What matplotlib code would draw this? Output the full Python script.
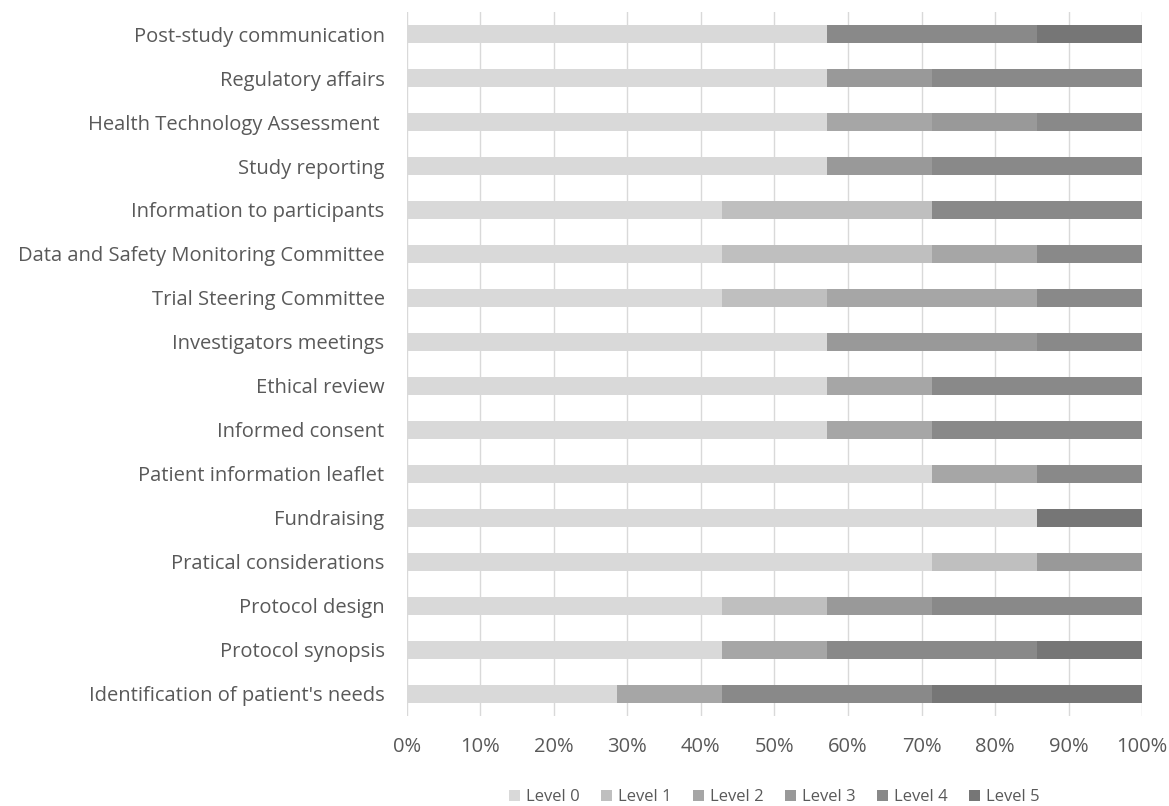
import numpy as np
import matplotlib
matplotlib.use('Agg')
import matplotlib.pyplot as plt
from matplotlib.ticker import PercentFormatter

plt.rcParams['font.family'] = ['Open Sans', 'DejaVu Sans']

# categories, bottom to top
categories = ["Identification of patient's needs", "Protocol synopsis", "Protocol design",
              "Pratical considerations", "Fundraising", "Patient information leaflet",
              "Informed consent", "Ethical review", "Investigators meetings",
              "Trial Steering Committee", "Data and Safety Monitoring Committee",
              "Information to participants", "Study reporting",
              "Health Technology Assessment ", "Regulatory affairs",
              "Post-study communication"]

# number of respondents (out of 7) at each level
level0 = [2, 3, 3, 5, 6, 5, 4, 4, 4, 3, 3, 3, 4, 4, 4, 4]
level1 = [0, 0, 1, 1, 0, 0, 0, 0, 0, 1, 2, 2, 0, 0, 0, 0]
level2 = [1, 1, 0, 0, 0, 1, 1, 1, 0, 2, 1, 0, 0, 1, 0, 0]
level3 = [0, 0, 1, 1, 0, 0, 0, 0, 2, 0, 0, 0, 1, 1, 1, 0]
level4 = [2, 2, 2, 0, 0, 1, 2, 2, 1, 1, 1, 2, 2, 1, 2, 2]
level5 = [2, 1, 0, 0, 1, 0, 0, 0, 0, 0, 0, 0, 0, 0, 0, 1]
total = 7

levels = [level0, level1, level2, level3, level4, level5]
names = ['Level 0', 'Level 1', 'Level 2', 'Level 3', 'Level 4', 'Level 5']
colors = ['#d9d9d9', '#bfbfbf', '#a6a6a6', '#999999', '#898989', '#767676']

fig = plt.figure(figsize=(11.69, 8.06), dpi=100)
ax = fig.add_axes([0.348, 0.112, 0.629, 0.873])

y = np.arange(len(categories))
left = np.zeros(len(categories))
for vals, name, col in zip(levels, names, colors):
    pct = np.array(vals) / total * 100
    ax.barh(y, pct, left=left, height=0.4, color=col, label=name, zorder=3)
    left += pct

ax.set_xlim(0, 100)
ax.set_ylim(-0.5, len(categories) - 0.5)
ax.set_xticks(np.arange(0, 101, 10))
ax.xaxis.set_major_formatter(PercentFormatter(decimals=0))
ax.set_yticks(y)
ax.set_yticklabels(categories)
ax.tick_params(axis='both', length=0, labelsize=14.5, labelcolor='#595959')
ax.tick_params(axis='x', pad=15)
ax.tick_params(axis='y', pad=16)
ax.grid(axis='x', color='#d9d9d9', linewidth=1, zorder=0)
for s in ax.spines.values():
    s.set_visible(False)

ax.legend(loc='upper center', bbox_to_anchor=(0.5, -0.088), ncol=6, frameon=False,
          fontsize=12, labelcolor='#595959', handlelength=0.65, handleheight=0.65,
          handletextpad=0.35, columnspacing=1.3, borderpad=0.2)

fig.savefig('out.png', dpi=100)
